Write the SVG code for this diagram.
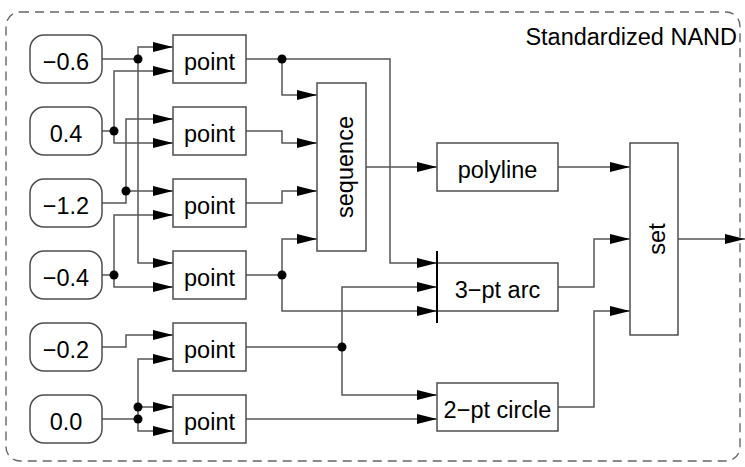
<svg xmlns="http://www.w3.org/2000/svg" width="745" height="467" viewBox="0 0 745 467">
<style>
text{font-family:"Liberation Sans",Arial,sans-serif;font-size:23.5px;fill:#000;text-anchor:middle}
.box{fill:#fff;stroke:#4d4d4d;stroke-width:1.5}
.w{fill:none;stroke:#555;stroke-width:1.5}
.dot{fill:#000}
</style>
<defs>
<marker id="ah" markerUnits="userSpaceOnUse" markerWidth="20" markerHeight="10" refX="20" refY="5" orient="auto">
<path d="M0,0 L20,5 L0,10 z" fill="#000"/>
</marker>
</defs>
<rect x="6" y="12" width="734" height="449" rx="14" fill="none" stroke="#666" stroke-width="1.4" stroke-dasharray="9 6"/>
<text x="737" y="45" style="text-anchor:end">Standardized NAND</text>

<g id="connectors">
<g class="w" marker-end="url(#ah)">
<path d="M102,59 H138 V47 H173"/>
<path d="M138,59 V263 H173"/>
<path d="M102,131 H114 V71 H173"/>
<path d="M114,131 V143 H173"/>
<path d="M102,203 H126 V119 H173"/>
<path d="M126,191 H173"/>
<path d="M102,275 H114 V215 H173"/>
<path d="M114,275 V287 H173"/>
<path d="M102,347 H126 V335 H173"/>
<path d="M102,419 H138 V359 H173"/>
<path d="M138,407 H173"/>
<path d="M138,419 V431 H173"/>
<path d="M246,59 H390 V263 H437"/>
<path d="M282,59 V95 H317"/>
<path d="M246,131 H282 V143 H317"/>
<path d="M246,203 H282 V191 H317"/>
<path d="M246,275 H282 V239 H317"/>
<path d="M282,275 V311 H437"/>
<path d="M246,347 H342 V287 H437"/>
<path d="M342,347 V395 H437"/>
<path d="M246,419 H437"/>
<path d="M366,167 H437"/>
<path d="M558,167 H630"/>
<path d="M558,287 H594 V239 H630"/>
<path d="M558,407 H594 V311 H630"/>
<path d="M678,239 H745"/>
</g>
<circle class="dot" cx="138" cy="59" r="4.5"/>
<circle class="dot" cx="114" cy="131" r="4.5"/>
<circle class="dot" cx="126" cy="191" r="4.5"/>
<circle class="dot" cx="114" cy="275" r="4.5"/>
<circle class="dot" cx="138" cy="407" r="4.5"/>
<circle class="dot" cx="138" cy="419" r="4.5"/>
<circle class="dot" cx="282" cy="59" r="4.5"/>
<circle class="dot" cx="282" cy="275" r="4.5"/>
<circle class="dot" cx="342" cy="347" r="4.5"/>
</g>

<g id="in1"><rect class="box" x="30" y="35" width="72" height="48" rx="14"/><text x="66" y="70">−0.6</text></g>
<g id="in2"><rect class="box" x="30" y="107" width="72" height="48" rx="14"/><text x="66" y="142">0.4</text></g>
<g id="in3"><rect class="box" x="30" y="179" width="72" height="48" rx="14"/><text x="66" y="214">−1.2</text></g>
<g id="in4"><rect class="box" x="30" y="251" width="72" height="48" rx="14"/><text x="66" y="286">−0.4</text></g>
<g id="in5"><rect class="box" x="30" y="323" width="72" height="48" rx="14"/><text x="66" y="358">−0.2</text></g>
<g id="in6"><rect class="box" x="30" y="395" width="72" height="48" rx="14"/><text x="66" y="430">0.0</text></g>

<g id="pt1"><rect class="box" x="173" y="35" width="73" height="48"/><text x="209.5" y="70">point</text></g>
<g id="pt2"><rect class="box" x="173" y="107" width="73" height="48"/><text x="209.5" y="142">point</text></g>
<g id="pt3"><rect class="box" x="173" y="179" width="73" height="48"/><text x="209.5" y="214">point</text></g>
<g id="pt4"><rect class="box" x="173" y="251" width="73" height="48"/><text x="209.5" y="286">point</text></g>
<g id="pt5"><rect class="box" x="173" y="323" width="73" height="48"/><text x="209.5" y="358">point</text></g>
<g id="pt6"><rect class="box" x="173" y="395" width="73" height="48"/><text x="209.5" y="430">point</text></g>

<g id="sequence"><rect class="box" x="317" y="83" width="49" height="168"/><text transform="translate(352.5,167) rotate(-90)">sequence</text></g>
<g id="polyline"><rect class="box" x="437" y="143" width="121" height="48"/><text x="497.5" y="178">polyline</text></g>
<g id="arc"><rect class="box" x="437" y="263" width="121" height="48"/><line x1="437" y1="251" x2="437" y2="323" stroke="#000" stroke-width="2"/><text x="497.5" y="298">3−pt arc</text></g>
<g id="circle"><rect class="box" x="437" y="383" width="121" height="48"/><text x="497.5" y="418">2−pt circle</text></g>
<g id="set"><rect class="box" x="630" y="143" width="48" height="192"/><text transform="translate(665,239) rotate(-90)">set</text></g>
</svg>
